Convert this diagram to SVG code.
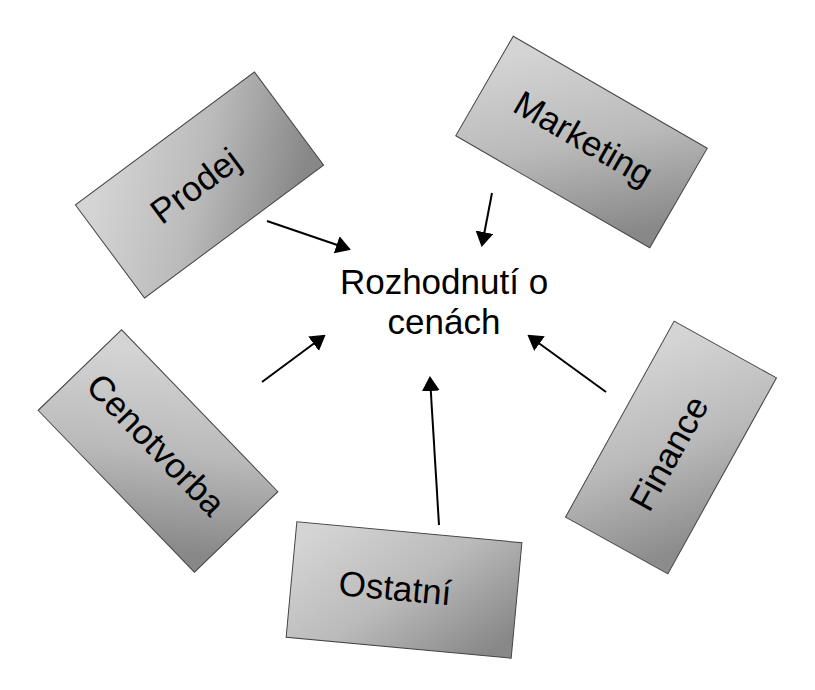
<svg xmlns="http://www.w3.org/2000/svg" width="815" height="690" viewBox="0 0 815 690">
<defs>
<linearGradient id="gLR" x1="0" y1="0.2" x2="1" y2="0.8">
<stop offset="0" stop-color="#d4d4d4"/>
<stop offset="0.5" stop-color="#bababa"/>
<stop offset="1" stop-color="#888888"/>
</linearGradient>
<linearGradient id="gRL" x1="1" y1="0.2" x2="0" y2="0.8">
<stop offset="0" stop-color="#d4d4d4"/>
<stop offset="0.5" stop-color="#bababa"/>
<stop offset="1" stop-color="#8c8c8c"/>
</linearGradient>
<marker id="arr" viewBox="0 0 15 18" refX="13" refY="9" markerWidth="15" markerHeight="18" markerUnits="userSpaceOnUse" orient="auto">
<path d="M0,0 L15,9 L0,18 z" fill="#000"/>
</marker>
</defs>
<style>
.box{stroke:#444;stroke-width:1}
.lbl{font-family:"Liberation Sans",Arial,sans-serif;font-size:35px;fill:#000;text-anchor:middle}
.con{stroke:#000;stroke-width:2;fill:none;marker-end:url(#arr)}
</style>
<rect width="815" height="690" fill="#fff"/>
<g id="prodej" transform="translate(199.5,185) rotate(-36.6)">
<rect class="box" x="-111.5" y="-58" width="223" height="116" fill="url(#gLR)"/>
<text class="lbl" x="-4" y="10">Prodej</text>
</g>
<g id="marketing" transform="translate(581.5,142) rotate(30)">
<rect class="box" x="-112" y="-57.5" width="224" height="115" fill="url(#gLR)"/>
<text class="lbl" x="0" y="8">Marketing</text>
</g>
<g id="cenotvorba" transform="translate(158,451) rotate(46)">
<rect class="box" x="-112.5" y="-58" width="225" height="116" fill="url(#gLR)"/>
<text class="lbl" x="-6" y="9">Cenotvorba</text>
</g>
<g id="finance" transform="translate(671,447.5) rotate(-61)">
<rect class="box" x="-112" y="-58.5" width="224" height="117" fill="url(#gRL)"/>
<text class="lbl" x="-6" y="13">Finance</text>
</g>
<g id="ostatni" transform="translate(404,590) rotate(5.3)">
<rect class="box" x="-113" y="-58" width="226" height="116" fill="url(#gLR)"/>
<text class="lbl" x="-9" y="11">Ostatní</text>
</g>
<g id="center">
<text class="lbl" x="444" y="294">Rozhodnutí o</text>
<text class="lbl" x="444" y="334">cenách</text>
</g>
<g id="connectors">
<line class="con" x1="267" y1="221" x2="349" y2="249"/>
<line class="con" x1="492" y1="193" x2="482" y2="245"/>
<line class="con" x1="262" y1="382" x2="324" y2="336"/>
<line class="con" x1="606" y1="392" x2="529" y2="336"/>
<line class="con" x1="439" y1="525" x2="430" y2="378"/>
</g>
</svg>
